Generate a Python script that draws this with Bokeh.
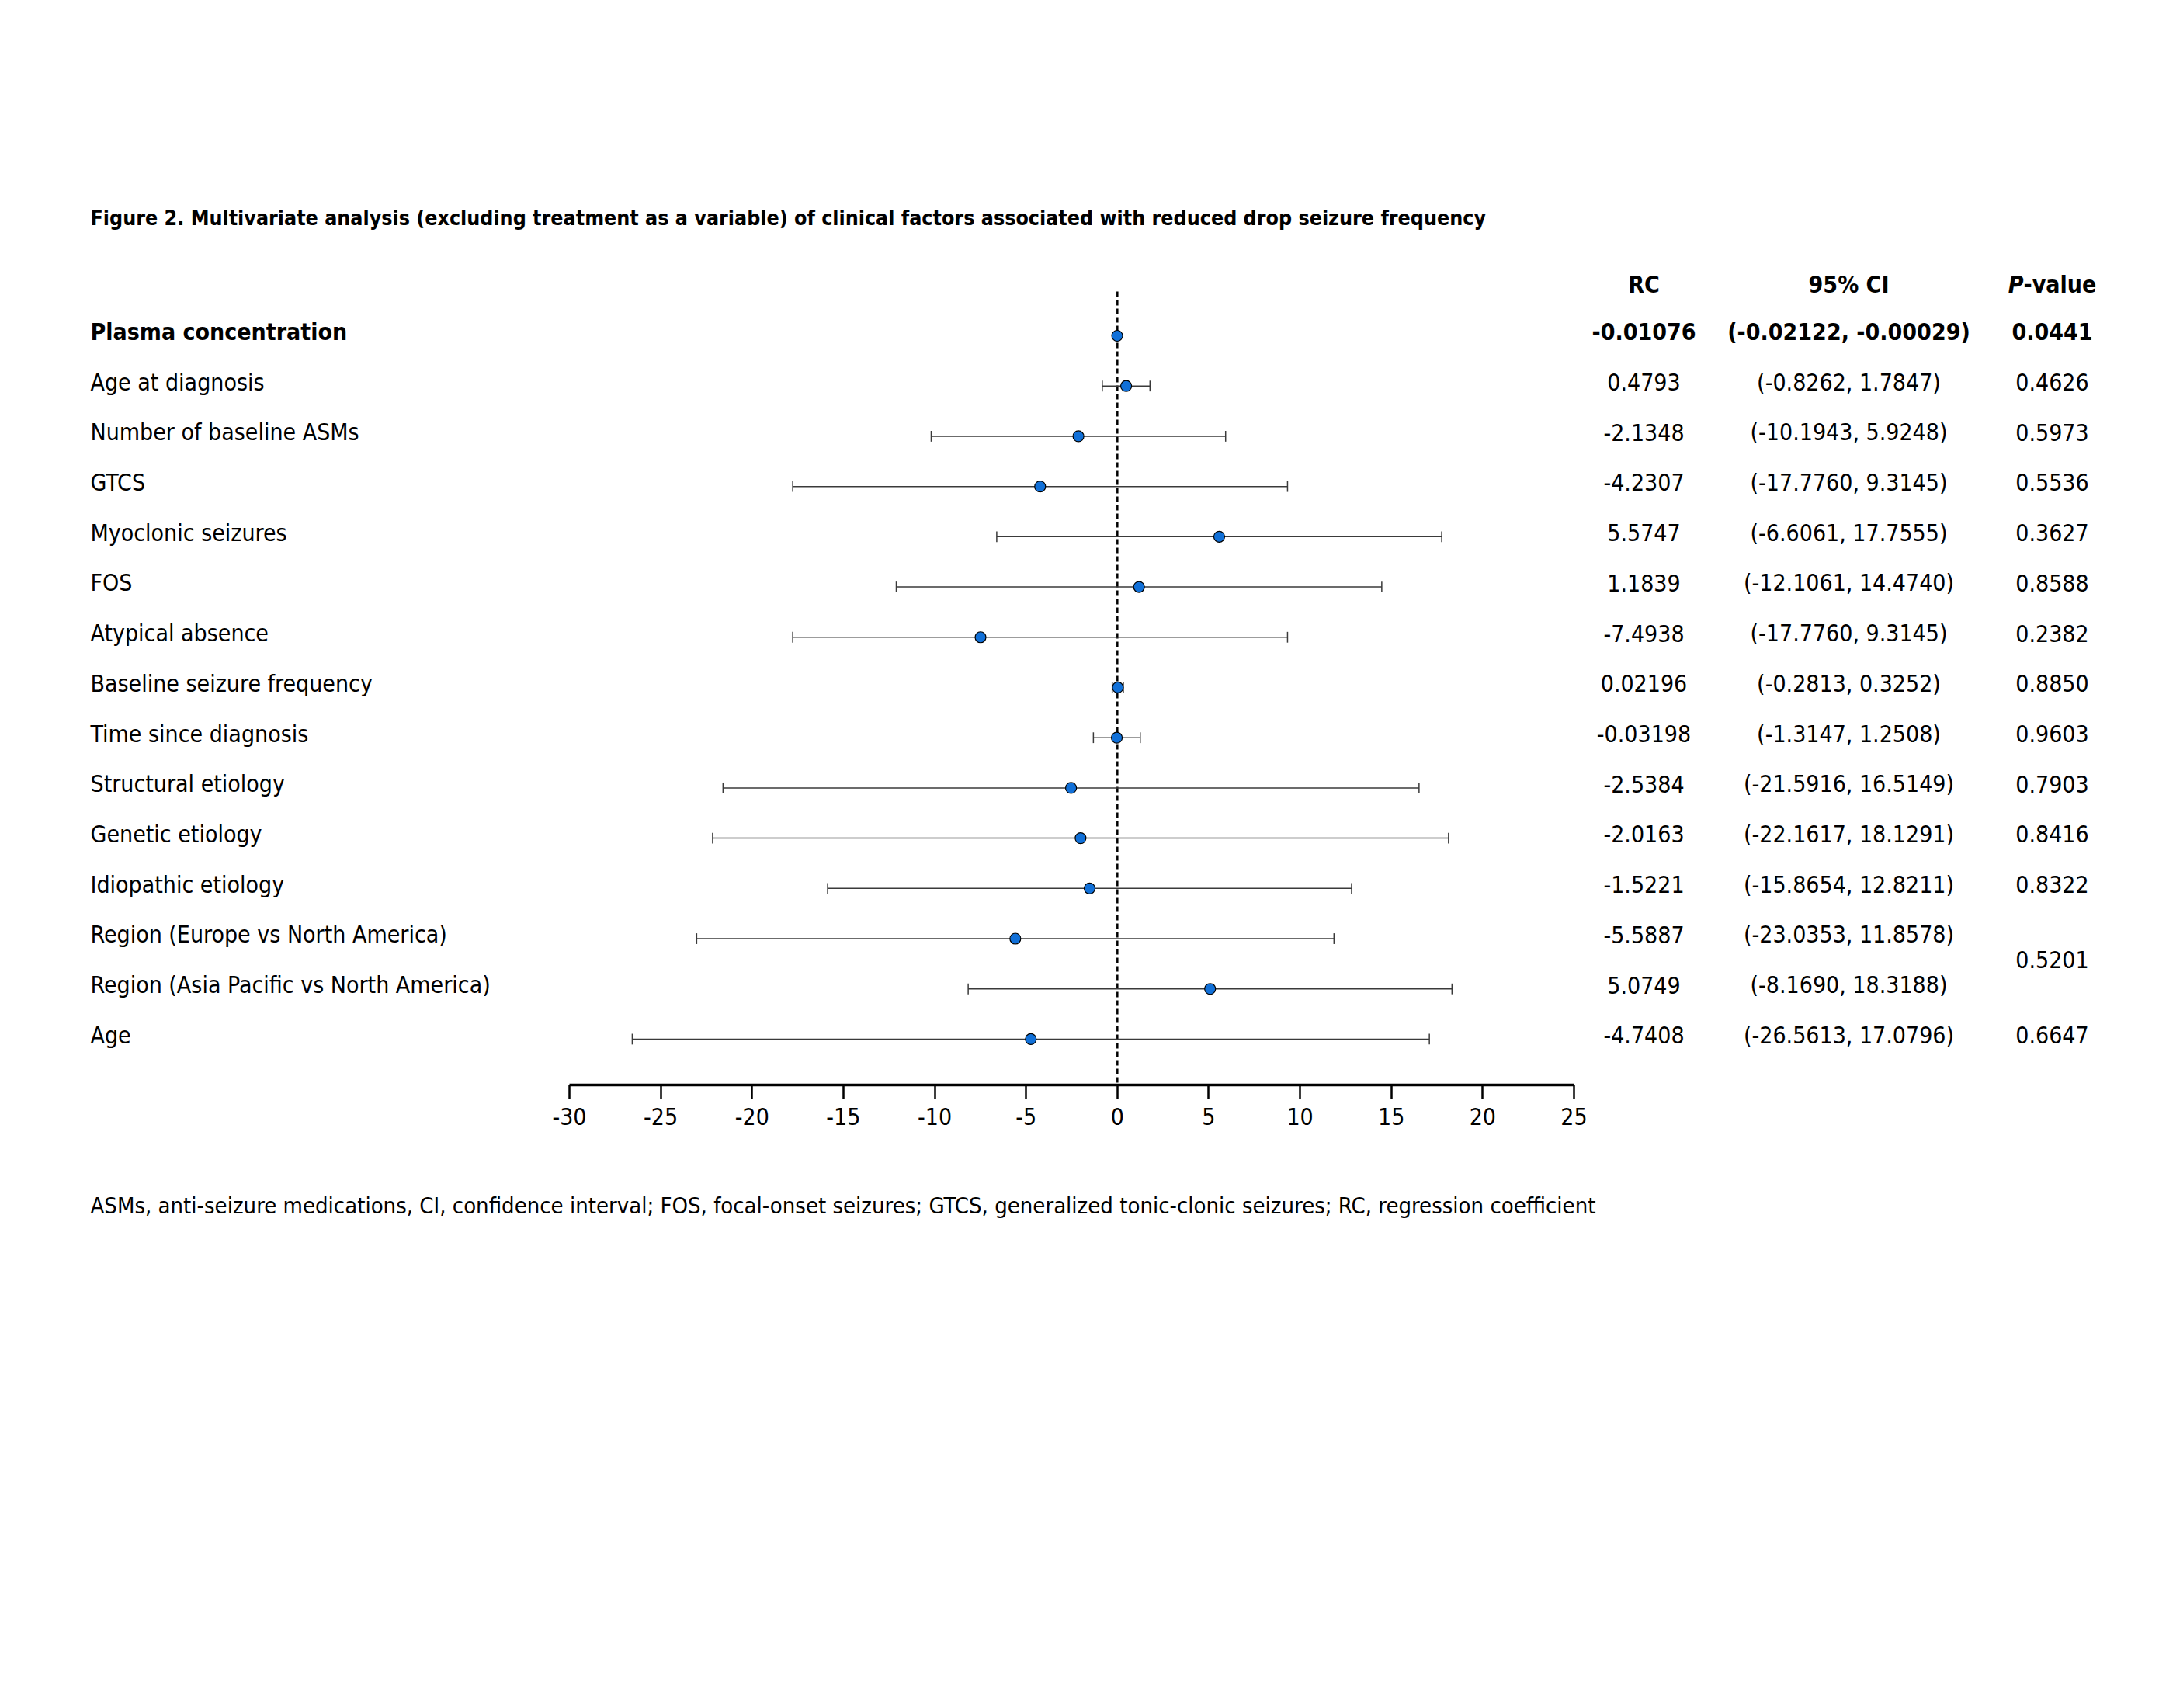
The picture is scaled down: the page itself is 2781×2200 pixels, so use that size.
from bokeh.plotting import figure
from bokeh.models import Range1d, LinearAxis, FixedTicker, ColumnDataSource
from bokeh.core.properties import value
from bokeh.embed import file_html
from bokeh.resources import INLINE

# ---------------- data ----------------
factors = [
    "Plasma concentration", "Age at diagnosis", "Number of baseline ASMs", "GTCS",
    "Myoclonic seizures", "FOS", "Atypical absence", "Baseline seizure frequency",
    "Time since diagnosis", "Structural etiology", "Genetic etiology",
    "Idiopathic etiology", "Region (Europe vs North America)",
    "Region (Asia Pacific vs North America)", "Age",
]
rc = [-0.01076, 0.4793, -2.1348, -4.2307, 5.5747, 1.1839, -7.4938, 0.02196,
      -0.03198, -2.5384, -2.0163, -1.5221, -5.5887, 5.0749, -4.7408]
ci_low = [-0.02122, -0.8262, -10.1943, -17.7760, -6.6061, -12.1061, -17.7760,
          -0.2813, -1.3147, -21.5916, -22.1617, -15.8654, -23.0353, -8.1690, -26.5613]
ci_high = [-0.00029, 1.7847, 5.9248, 9.3145, 17.7555, 14.4740, 9.3145, 0.3252,
           1.2508, 16.5149, 18.1291, 12.8211, 11.8578, 18.3188, 17.0796]
rc_text = ["-0.01076", "0.4793", "-2.1348", "-4.2307", "5.5747", "1.1839", "-7.4938",
           "0.02196", "-0.03198", "-2.5384", "-2.0163", "-1.5221", "-5.5887", "5.0749",
           "-4.7408"]
ci_text = ["(-0.02122, -0.00029)", "(-0.8262, 1.7847)", "(-10.1943, 5.9248)",
           "(-17.7760, 9.3145)", "(-6.6061, 17.7555)", "(-12.1061, 14.4740)",
           "(-17.7760, 9.3145)", "(-0.2813, 0.3252)", "(-1.3147, 1.2508)",
           "(-21.5916, 16.5149)", "(-22.1617, 18.1291)", "(-15.8654, 12.8211)",
           "(-23.0353, 11.8578)", "(-8.1690, 18.3188)", "(-26.5613, 17.0796)"]
# p-values; the two Region rows share one value (rows 12 and 13)
p_text = ["0.0441", "0.4626", "0.5973", "0.5536", "0.3627", "0.8588", "0.2382",
          "0.8850", "0.9603", "0.7903", "0.8416", "0.8322", "0.6647"]
p_rows = [0, 1, 2, 3, 4, 5, 6, 7, 8, 9, 10, 11, 14]
p_region = "0.5201"
p_region_rows = [12, 13]
x_ticks = [-30, -25, -20, -15, -10, -5, 0, 5, 10, 15, 20, 25]

title_text = ("Figure 2. Multivariate analysis (excluding treatment as a variable) of "
              "clinical factors associated with reduced drop seizure frequency")
foot_text = ("ASMs, anti-seizure medications, CI, confidence interval; FOS, focal-onset "
             "seizures; GTCS, generalized tonic-clonic seizures; RC, regression coefficient")

# ---------------- layout helpers ----------------
W, H = 2765, 2184
AXIS_Y = 1397                 # canvas px of the x-axis line
PX0, PX1 = 733, 2027          # canvas px of -30 and 25
K = (25 - (-30)) / (PX1 - PX0)
ROW0, ROWSTEP = 432, 64.71


def dx(px):
    return -30 + (px - PX0) * K


def dy(py):
    return (py - ROW0) / ROWSTEP


FONT_STR = "'Liberation Sans Narrow', 'Arial Narrow', 'DejaVu Sans Condensed', sans-serif"
FONT = value(FONT_STR)
FS = "30px"
TXT_OFF = -0.08

p = figure(width=W, height=H, output_backend="svg", toolbar_location=None,
           x_range=Range1d(dx(0), dx(W)), y_range=Range1d(dy(H), dy(0)),
           x_axis_location=None, y_axis_location=None,
           min_border_left=0, min_border_right=0, min_border_top=0, min_border_bottom=0)
p.outline_line_color = None
p.xgrid.visible = False
p.ygrid.visible = False
p.background_fill_color = "white"
p.border_fill_color = "white"

rows = list(range(len(factors)))
src = ColumnDataSource(dict(y=rows, rc=rc, lo=ci_low, hi=ci_high,
                            cap_lo=[r - 0.107 for r in rows],
                            cap_hi=[r + 0.107 for r in rows]))

# reference line at 0
p.segment(x0=[0], x1=[0], y0=[dy(375)], y1=[dy(AXIS_Y)],
          line_color="black", line_width=2.5, line_dash="7 4")

# CI lines and caps
p.segment(x0="lo", x1="hi", y0="y", y1="y", source=src, line_color="#3a3a3a", line_width=1.5)
p.segment(x0="lo", x1="lo", y0="cap_lo", y1="cap_hi", source=src, line_color="#3a3a3a", line_width=1.5)
p.segment(x0="hi", x1="hi", y0="cap_lo", y1="cap_hi", source=src, line_color="#3a3a3a", line_width=1.5)

# points
p.scatter(x="rc", y="y", source=src, marker="circle", size=14,
          fill_color="#1170D8", line_color="black", line_width=1.2)

# axis, drawn at a fixed location inside the frame
ax = LinearAxis(ticker=FixedTicker(ticks=x_ticks), bounds=(-30, 25),
                fixed_location=dy(AXIS_Y))
ax.major_label_overrides = {t: str(t) for t in x_ticks}
ax.axis_line_width = 3.5
ax.axis_line_color = "black"
ax.major_tick_line_width = 2.5
ax.major_tick_line_color = "black"
ax.major_tick_out = 18
ax.major_tick_in = 0
ax.minor_tick_out = 0
ax.minor_tick_in = 0
ax.major_label_standoff = 11
ax.major_label_text_font = FONT_STR
ax.major_label_text_font_size = FS
ax.major_label_text_color = "black"
p.add_layout(ax, "below")

# row labels and table
ty = [r + TXT_OFF for r in rows]
col_lab, col_rc, col_ci, col_p = dx(116), dx(2117), dx(2381), dx(2643)


def txt(xs, ys, texts, align="left", style="normal", size=FS):
    p.text(x=xs, y=ys, text=texts, text_font=FONT, text_font_size=size,
           text_font_style=style, text_align=align, text_baseline="middle",
           text_color="black")


txt([col_lab], [ty[0]], [factors[0]], style="bold")
txt([col_lab] * 14, ty[1:], factors[1:])
txt([col_rc], [ty[0]], [rc_text[0]], "center", "bold")
txt([col_rc] * 14, ty[1:], rc_text[1:], "center")
txt([col_ci], [ty[0]], [ci_text[0]], "center", "bold")
txt([col_ci] * 14, ty[1:], ci_text[1:], "center")
txt([col_p], [ty[p_rows[0]]], [p_text[0]], "center", "bold")
txt([col_p] * (len(p_rows) - 1), [ty[r] for r in p_rows[1:]], p_text[1:], "center")
txt([col_p], [sum(p_region_rows) / 2 + TXT_OFF], [p_region], "center")

# headers
hy = dy(366)
txt([col_rc], [hy], ["RC"], "center", "bold")
txt([col_ci], [hy], ["95% CI"], "center", "bold")
txt([dx(2606)], [hy], ["P"], "right", "bold italic")
txt([dx(2606)], [hy], ["-value"], "left", "bold")

# title and footnote
txt([dx(116)], [dy(280)], [title_text], "left", "bold", "26.6px")
txt([dx(116)], [dy(1552)], [foot_text], "left", "normal", "29px")

open("out.html", "w").write(file_html(p, INLINE))
